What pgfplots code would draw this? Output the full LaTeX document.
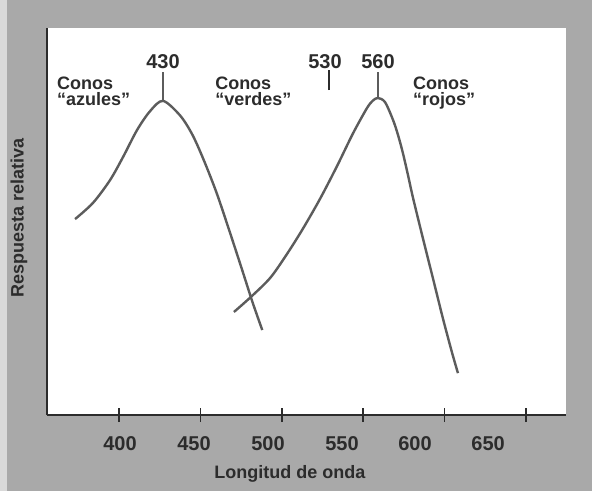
\documentclass[border=0pt]{standalone}
\usepackage{pgfplots}
\pgfplotsset{compat=1.18}
\usepackage{fontspec}
\setmainfont{Liberation Sans}
\definecolor{bggray}{HTML}{A9A9A9}
\definecolor{curvec}{HTML}{5C5C5C}
\definecolor{ink}{HTML}{2C2C2C}
\begin{document}
\begin{tikzpicture}
\useasboundingbox (-47pt,-76pt) rectangle (545pt,415pt);
\fill[bggray] (-47pt,-76pt) rectangle (545pt,415pt);
\fill[gray!30] (-47pt,-76pt) rectangle (-40pt,415pt);
\begin{axis}[
  at={(0,0)}, anchor=south west,
  width=519pt, height=387pt, scale only axis,
  xmin=355.77, xmax=674.57, ymin=0, ymax=1.2208,
  axis x line*=bottom, axis y line*=left,
  axis line style={-, ink, line width=2.6pt},
  axis background/.style={fill=white},
  clip=false,
  font=\bfseries,
  /pgf/number format/assume math mode=true,
  xtick={400,450,500,550,600,650}, xticklabels={},
  ytick=\empty,
  major tick length=14pt, xtick align=center,
  tick style={ink, line width=1.6pt},
  extra x ticks={400.6,446.1,491.5,537.0,581.8,626.7},
  extra x tick labels={400,450,500,550,600,650},
  extra x tick style={major tick length=0pt,
     xticklabel style={anchor=base, yshift=-35pt, font=\fontsize{20}{20}\bfseries\selectfont, text=ink}},
  xlabel={Longitud de onda},
  xlabel style={at={(axis description cs:0.468,0)}, anchor=base, yshift=-63pt, font=\fontsize{18}{18}\bfseries\selectfont, text=ink},
  ylabel={Respuesta relativa},
  ylabel style={at={(axis description cs:-0.054,0.509)}, anchor=center, font=\fontsize{18}{18}\bfseries\selectfont, text=ink},
]
% curva "azules"
\addplot[curvec, line width=2.4pt, smooth, tension=0.5] coordinates {
 (373.0,0.618) (384.0,0.669) (394.5,0.741) (402.5,0.814) (411.1,0.899)
 (419.0,0.958) (427.0,0.991) (437.5,0.945) (445.0,0.885) (452.0,0.805)
 (460.0,0.700) (468.0,0.578) (476.0,0.452) (482.0,0.356) (488.0,0.268)
};
% curva "rojos"
\addplot[curvec, line width=2.4pt, smooth, tension=0.5] coordinates {
 (470.6,0.325) (480.5,0.370) (492.8,0.432) (503.2,0.508) (513.0,0.588)
 (523.5,0.682) (533.9,0.785) (543.7,0.888) (552.3,0.968) (556.0,0.992) (559.1,1.000)
 (563.4,0.987) (568.3,0.931) (571.4,0.883) (574.4,0.826) (577.5,0.757)
 (580.6,0.685) (586.7,0.557) (592.9,0.430)
 (599.0,0.304) (604.5,0.198) (608.2,0.132)
};
% marcas de los picos
\addplot[curvec, line width=2.2pt] coordinates {(427.0,0.991) (427.0,1.082)};
\addplot[curvec, line width=2.2pt] coordinates {(559.1,1.000) (559.1,1.082)};
\addplot[ink, line width=2.8pt] coordinates {(529.0,1.025) (529.0,1.088)};
% textos
\begin{scope}[every node/.style={text=ink, font=\fontsize{18}{18}\bfseries\selectfont, anchor=base west, inner sep=0pt}]
\node[anchor=base, font=\fontsize{20}{20}\bfseries\selectfont] at (axis cs:427.0,1.082) [yshift=4pt] {430};
\node[anchor=base, font=\fontsize{20}{20}\bfseries\selectfont] at (axis cs:526.5,1.082) [yshift=4pt] {530};
\node[anchor=base, font=\fontsize{20}{20}\bfseries\selectfont] at (axis cs:559.1,1.082) [yshift=4pt] {560};
\node at (axis cs:361.9,1.028) {Conos};
\node at (axis cs:361.9,0.975) {``azules''};
\node at (axis cs:459.0,1.028) {Conos};
\node at (axis cs:459.0,0.975) {``verdes''};
\node at (axis cs:580.6,1.028) {Conos};
\node at (axis cs:580.6,0.975) {``rojos''};
\end{scope}
\end{axis}
\end{tikzpicture}
\end{document}
